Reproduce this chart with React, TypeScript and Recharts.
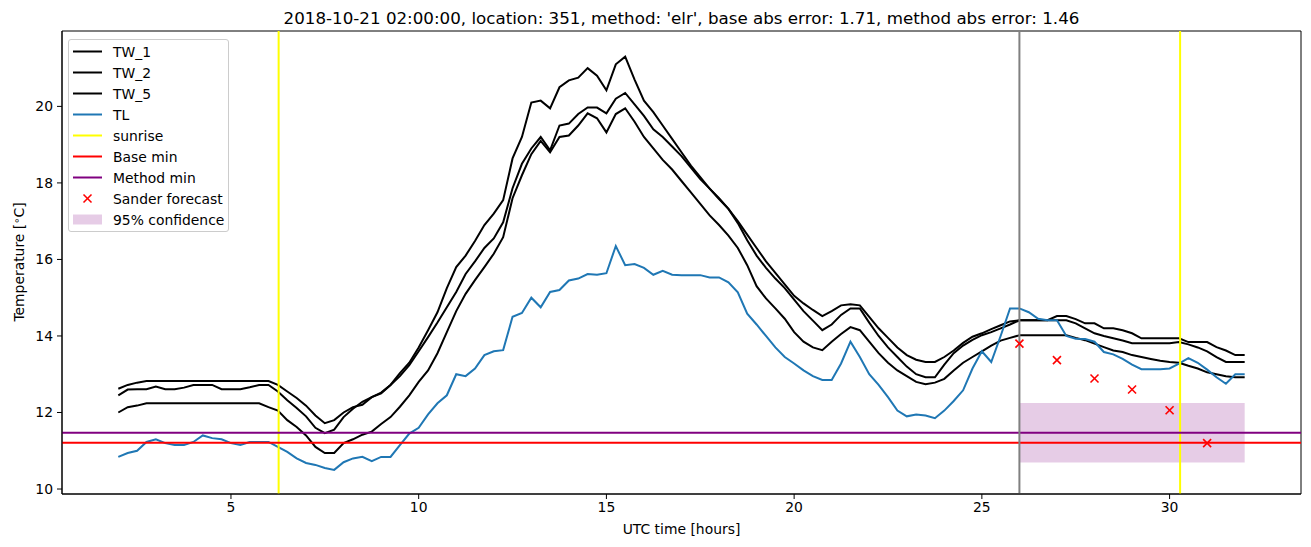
import {
    ComposedChart,
    Line,
    ReferenceArea,
    ReferenceLine,
    Scatter,
    XAxis,
    YAxis,
} from "recharts";

// sample grid: every 15 minutes from 02:00 to 32:00 UTC
const hours = Array.from({ length: 121 }, (_, i) => 2 + i * 0.25);

const tw1 = [
    12.62, 12.72, 12.78, 12.82,
    12.82, 12.82, 12.82, 12.82,
    12.82, 12.82, 12.82, 12.82,
    12.82, 12.82, 12.82, 12.82,
    12.82, 12.72, 12.55, 12.38,
    12.18, 11.92, 11.72, 11.8,
    12.0, 12.14, 12.2, 12.4,
    12.5, 12.72, 13.03, 13.3,
    13.7, 14.15, 14.62, 15.25,
    15.8, 16.1, 16.48, 16.9,
    17.2, 17.55, 18.64, 19.2,
    20.1, 20.15, 19.95, 20.5,
    20.68, 20.75, 21.0, 20.8,
    20.42, 21.1, 21.3, 20.7,
    20.15, 19.85, 19.5, 19.15,
    18.8, 18.45, 18.15, 17.85,
    17.6, 17.32, 17.0, 16.65,
    16.3, 15.95, 15.65, 15.35,
    15.05, 14.85, 14.68, 14.52,
    14.65, 14.8, 14.83, 14.8,
    14.5, 14.2, 13.95, 13.7,
    13.5, 13.38, 13.32, 13.32,
    13.45, 13.62, 13.82, 13.98,
    14.07, 14.18, 14.28, 14.38,
    14.41, 14.41, 14.41, 14.41,
    14.52, 14.52, 14.44, 14.33,
    14.33, 14.2, 14.2, 14.15,
    14.07, 13.94, 13.94, 13.94,
    13.94, 13.94, 13.84, 13.84,
    13.84, 13.71, 13.62, 13.5,
    13.5,
];

const tw2 = [
    12.45, 12.6, 12.61, 12.61,
    12.68, 12.61, 12.61, 12.65,
    12.72, 12.72, 12.72, 12.61,
    12.61, 12.61, 12.66, 12.72,
    12.72, 12.55, 12.32, 12.12,
    11.9, 11.6, 11.46, 11.55,
    11.88, 12.1, 12.28, 12.4,
    12.52, 12.72, 12.95, 13.24,
    13.6, 13.97, 14.35, 14.75,
    15.15, 15.62, 15.95, 16.3,
    16.55, 16.97, 17.86, 18.5,
    18.9, 19.2, 18.85, 19.5,
    19.55, 19.8, 19.97, 19.97,
    19.82, 20.2, 20.35, 20.05,
    19.75, 19.4, 19.2, 18.95,
    18.7, 18.4, 18.1, 17.85,
    17.58, 17.32, 16.95, 16.5,
    16.1, 15.78, 15.5, 15.25,
    14.95, 14.65, 14.4, 14.15,
    14.3, 14.55, 14.72, 14.72,
    14.35, 14.0, 13.7, 13.45,
    13.2, 13.0, 12.92, 12.92,
    13.25, 13.55, 13.75, 13.9,
    14.02, 14.1, 14.2, 14.3,
    14.41, 14.41, 14.41, 14.41,
    14.41, 14.41, 14.33, 14.2,
    14.07, 14.0, 13.94, 13.88,
    13.81, 13.81, 13.81, 13.81,
    13.81, 13.84, 13.78, 13.7,
    13.6, 13.45, 13.32, 13.32,
    13.32,
];

const tw5 = [
    12.0, 12.14, 12.18, 12.24,
    12.24, 12.24, 12.24, 12.24,
    12.24, 12.24, 12.24, 12.24,
    12.24, 12.24, 12.24, 12.24,
    12.14, 12.05, 11.8, 11.62,
    11.4, 11.1, 10.94, 10.94,
    11.2, 11.3, 11.42, 11.5,
    11.7, 11.88, 12.15, 12.45,
    12.8, 13.1, 13.55, 14.1,
    14.65, 15.1, 15.46, 15.8,
    16.15, 16.58, 17.6, 18.2,
    18.75, 19.1, 18.8, 19.2,
    19.24, 19.5, 19.82, 19.69,
    19.32, 19.8, 19.95, 19.6,
    19.2, 18.9, 18.6, 18.35,
    18.05, 17.75, 17.45, 17.15,
    16.9, 16.62, 16.3, 15.85,
    15.3, 14.98, 14.72, 14.45,
    14.1, 13.85, 13.7, 13.63,
    13.85, 14.05, 14.23, 14.15,
    13.85, 13.55, 13.3, 13.1,
    12.95, 12.8, 12.74, 12.78,
    12.88, 13.1, 13.3, 13.45,
    13.6, 13.75, 13.88, 13.95,
    14.02, 14.02, 14.02, 14.02,
    14.02, 14.02, 13.95, 13.89,
    13.8, 13.71, 13.62, 13.58,
    13.5, 13.45, 13.4, 13.35,
    13.32, 13.3, 13.22, 13.15,
    13.05, 13.0, 12.95, 12.92,
    12.92,
];

const tl = [
    10.84, 10.94, 11.0, 11.23,
    11.3, 11.2, 11.15, 11.15,
    11.23, 11.4, 11.33, 11.3,
    11.2, 11.15, 11.23, 11.23,
    11.23, 11.1, 10.97, 10.8,
    10.68, 10.63, 10.55, 10.5,
    10.7, 10.8, 10.84, 10.73,
    10.84, 10.84, 11.15, 11.45,
    11.6, 11.95, 12.24, 12.45,
    13.0, 12.95, 13.15, 13.5,
    13.6, 13.63, 14.5, 14.6,
    15.0, 14.75, 15.15, 15.2,
    15.45, 15.5, 15.62, 15.6,
    15.64, 16.35, 15.85, 15.88,
    15.78, 15.6, 15.7, 15.6,
    15.59, 15.59, 15.59, 15.53,
    15.53, 15.4, 15.14, 14.58,
    14.3, 14.0, 13.7, 13.45,
    13.28, 13.1, 12.95, 12.85,
    12.85, 13.28, 13.85, 13.45,
    13.0, 12.72, 12.4, 12.05,
    11.9, 11.95, 11.92, 11.85,
    12.05, 12.3, 12.58, 13.15,
    13.6, 13.32, 14.0, 14.72,
    14.72, 14.62, 14.45, 14.41,
    14.41, 14.0, 13.93, 13.92,
    13.85, 13.58, 13.52, 13.4,
    13.25, 13.13, 13.13, 13.13,
    13.15, 13.28, 13.42, 13.3,
    13.12, 12.92, 12.75, 13.0,
    13.0,
];

const forecastHours = [26, 27, 28, 29, 30, 31];
const forecastTemps = [13.8, 13.37, 12.89, 12.6, 12.06, 11.2];

const sunriseHours = [6.27, 30.28];
const issueHour = 26;
const baseMin = 11.21;
const methodMin = 11.47;
const confHours = [26, 32];
const confRange = [10.69, 12.25];

const xTicks = [5, 10, 15, 20, 25, 30];
const yTicks = [10, 12, 14, 16, 18, 20];
const xDomain = [0.5, 33.5];
const yDomain = [9.87, 21.97];

const TITLE =
    "2018-10-21 02:00:00, location: 351, method: 'elr', base abs error: 1.71, method abs error: 1.46";

const chartData = hours.map((t, i) => ({
    t,
    tw1: tw1[i],
    tw2: tw2[i],
    tw5: tw5[i],
    tl: tl[i],
}));

const forecastData = forecastHours.map((t, i) => ({ t, forecast: forecastTemps[i] }));

const FONT = "'DejaVu Sans', sans-serif";
const BLUE = "#1f77b4";

const XMarker = (props: any) => {
    const { cx, cy } = props;
    if (cx == null || cy == null) return null;
    const r = 4;
    return (
        <g>
            <line x1={cx - r} y1={cy - r} x2={cx + r} y2={cy + r} stroke="red" strokeWidth={1.6} />
            <line x1={cx - r} y1={cy + r} x2={cx + r} y2={cy - r} stroke="red" strokeWidth={1.6} />
        </g>
    );
};

const legendItems = [
    { label: "TW_1", kind: "line", color: "#000" },
    { label: "TW_2", kind: "line", color: "#000" },
    { label: "TW_5", kind: "line", color: "#000" },
    { label: "TL", kind: "line", color: BLUE },
    { label: "sunrise", kind: "line", color: "yellow" },
    { label: "Base min", kind: "line", color: "red" },
    { label: "Method min", kind: "line", color: "purple" },
    { label: "Sander forecast", kind: "marker", color: "red" },
    { label: "95% confidence", kind: "patch", color: "purple" },
];

function LegendBox() {
    return (
        <div
            style={{
                position: "absolute",
                left: 68,
                top: 39,
                width: 159,
                height: 191,
                border: "1px solid #cccccc",
                borderRadius: 3,
                background: "rgba(255,255,255,0.8)",
                fontFamily: FONT,
                fontSize: 13.9,
            }}
        >
            {legendItems.map((item, i) => (
                <div
                    key={item.label}
                    style={{
                        position: "absolute",
                        left: 0,
                        top: 1 + i * 21,
                        height: 21,
                        width: "100%",
                        display: "flex",
                        alignItems: "center",
                    }}
                >
                    <svg width={44} height={21} style={{ flex: "none" }}>
                        {item.kind === "line" && (
                            <line x1={4} x2={33} y1={10.5} y2={10.5} stroke={item.color} strokeWidth={2} />
                        )}
                        {item.kind === "marker" && <XMarker cx={18.5} cy={10.5} />}
                        {item.kind === "patch" && (
                            <rect x={4} y={5.5} width={29} height={10} fill={item.color} fillOpacity={0.2} />
                        )}
                    </svg>
                    <span style={{ whiteSpace: "nowrap" }}>{item.label}</span>
                </div>
            ))}
        </div>
    );
}

export default function App() {
    return (
        <div
            style={{
                position: "absolute",
                left: 0,
                top: 0,
                width: 1311,
                height: 547,
                background: "#fff",
                fontFamily: FONT,
            }}
        >
            <ComposedChart
                width={1311}
                height={547}
                data={chartData}
                margin={{ top: 31, right: 10, left: 0, bottom: 0 }}
                style={{ fontFamily: FONT }}
            >
                <XAxis
                    dataKey="t"
                    type="number"
                    domain={xDomain}
                    ticks={xTicks}
                    allowDataOverflow
                    height={53}
                    tickSize={5}
                    tickMargin={3}
                    tick={{ fill: "#000", fontSize: 13.9 }}
                    tickLine={{ stroke: "#000" }}
                    axisLine={{ stroke: "#000" }}
                />
                <YAxis
                    type="number"
                    domain={yDomain}
                    ticks={yTicks}
                    allowDataOverflow
                    width={62}
                    tickSize={5}
                    tickMargin={4}
                    tick={{ fill: "#000", fontSize: 13.9 }}
                    tickLine={{ stroke: "#000" }}
                    axisLine={{ stroke: "#000" }}
                />
                <Line type="linear" dataKey="tw1" stroke="#000" strokeWidth={2} dot={false} isAnimationActive={false} />
                <Line type="linear" dataKey="tw2" stroke="#000" strokeWidth={2} dot={false} isAnimationActive={false} />
                <Line type="linear" dataKey="tw5" stroke="#000" strokeWidth={2} dot={false} isAnimationActive={false} />
                <Line type="linear" dataKey="tl" stroke={BLUE} strokeWidth={2} dot={false} isAnimationActive={false} />
                <ReferenceArea
                    x1={confHours[0]}
                    x2={confHours[1]}
                    y1={confRange[0]}
                    y2={confRange[1]}
                    fill="purple"
                    fillOpacity={0.2}
                    stroke="none"
                />
                {sunriseHours.map((h) => (
                    <ReferenceLine key={h} x={h} stroke="yellow" strokeWidth={2} />
                ))}
                <ReferenceLine y={baseMin} stroke="red" strokeWidth={2} />
                <ReferenceLine y={methodMin} stroke="purple" strokeWidth={2} />
                <ReferenceLine x={issueHour} stroke="grey" strokeWidth={2} />
                <Scatter
                    data={forecastData}
                    dataKey="forecast"
                    shape={XMarker}
                    isAnimationActive={false}
                />
                <ReferenceArea
                    x1={xDomain[0]}
                    x2={xDomain[1]}
                    y1={yDomain[0]}
                    y2={yDomain[1]}
                    fill="none"
                    stroke="#000"
                    strokeWidth={1}
                    ifOverflow="visible"
                />
            </ComposedChart>

            <div
                style={{
                    position: "absolute",
                    left: 62,
                    width: 1239,
                    top: 8,
                    height: 20,
                    lineHeight: "20px",
                    textAlign: "center",
                    fontSize: 16.7,
                    whiteSpace: "nowrap",
                }}
            >
                {TITLE}
            </div>
            <div
                style={{
                    position: "absolute",
                    left: 62,
                    width: 1239,
                    top: 520,
                    height: 18,
                    lineHeight: "18px",
                    textAlign: "center",
                    fontSize: 13.9,
                }}
            >
                UTC time [hours]
            </div>
            <div
                style={{
                    position: "absolute",
                    left: 19,
                    top: 262,
                    transform: "translate(-50%, -50%) rotate(-90deg)",
                    fontSize: 13.9,
                    whiteSpace: "nowrap",
                }}
            >
                Temperature [<sup style={{ fontSize: 10, verticalAlign: "4px" }}>∘</sup>C]
            </div>
            <LegendBox />
        </div>
    );
}
